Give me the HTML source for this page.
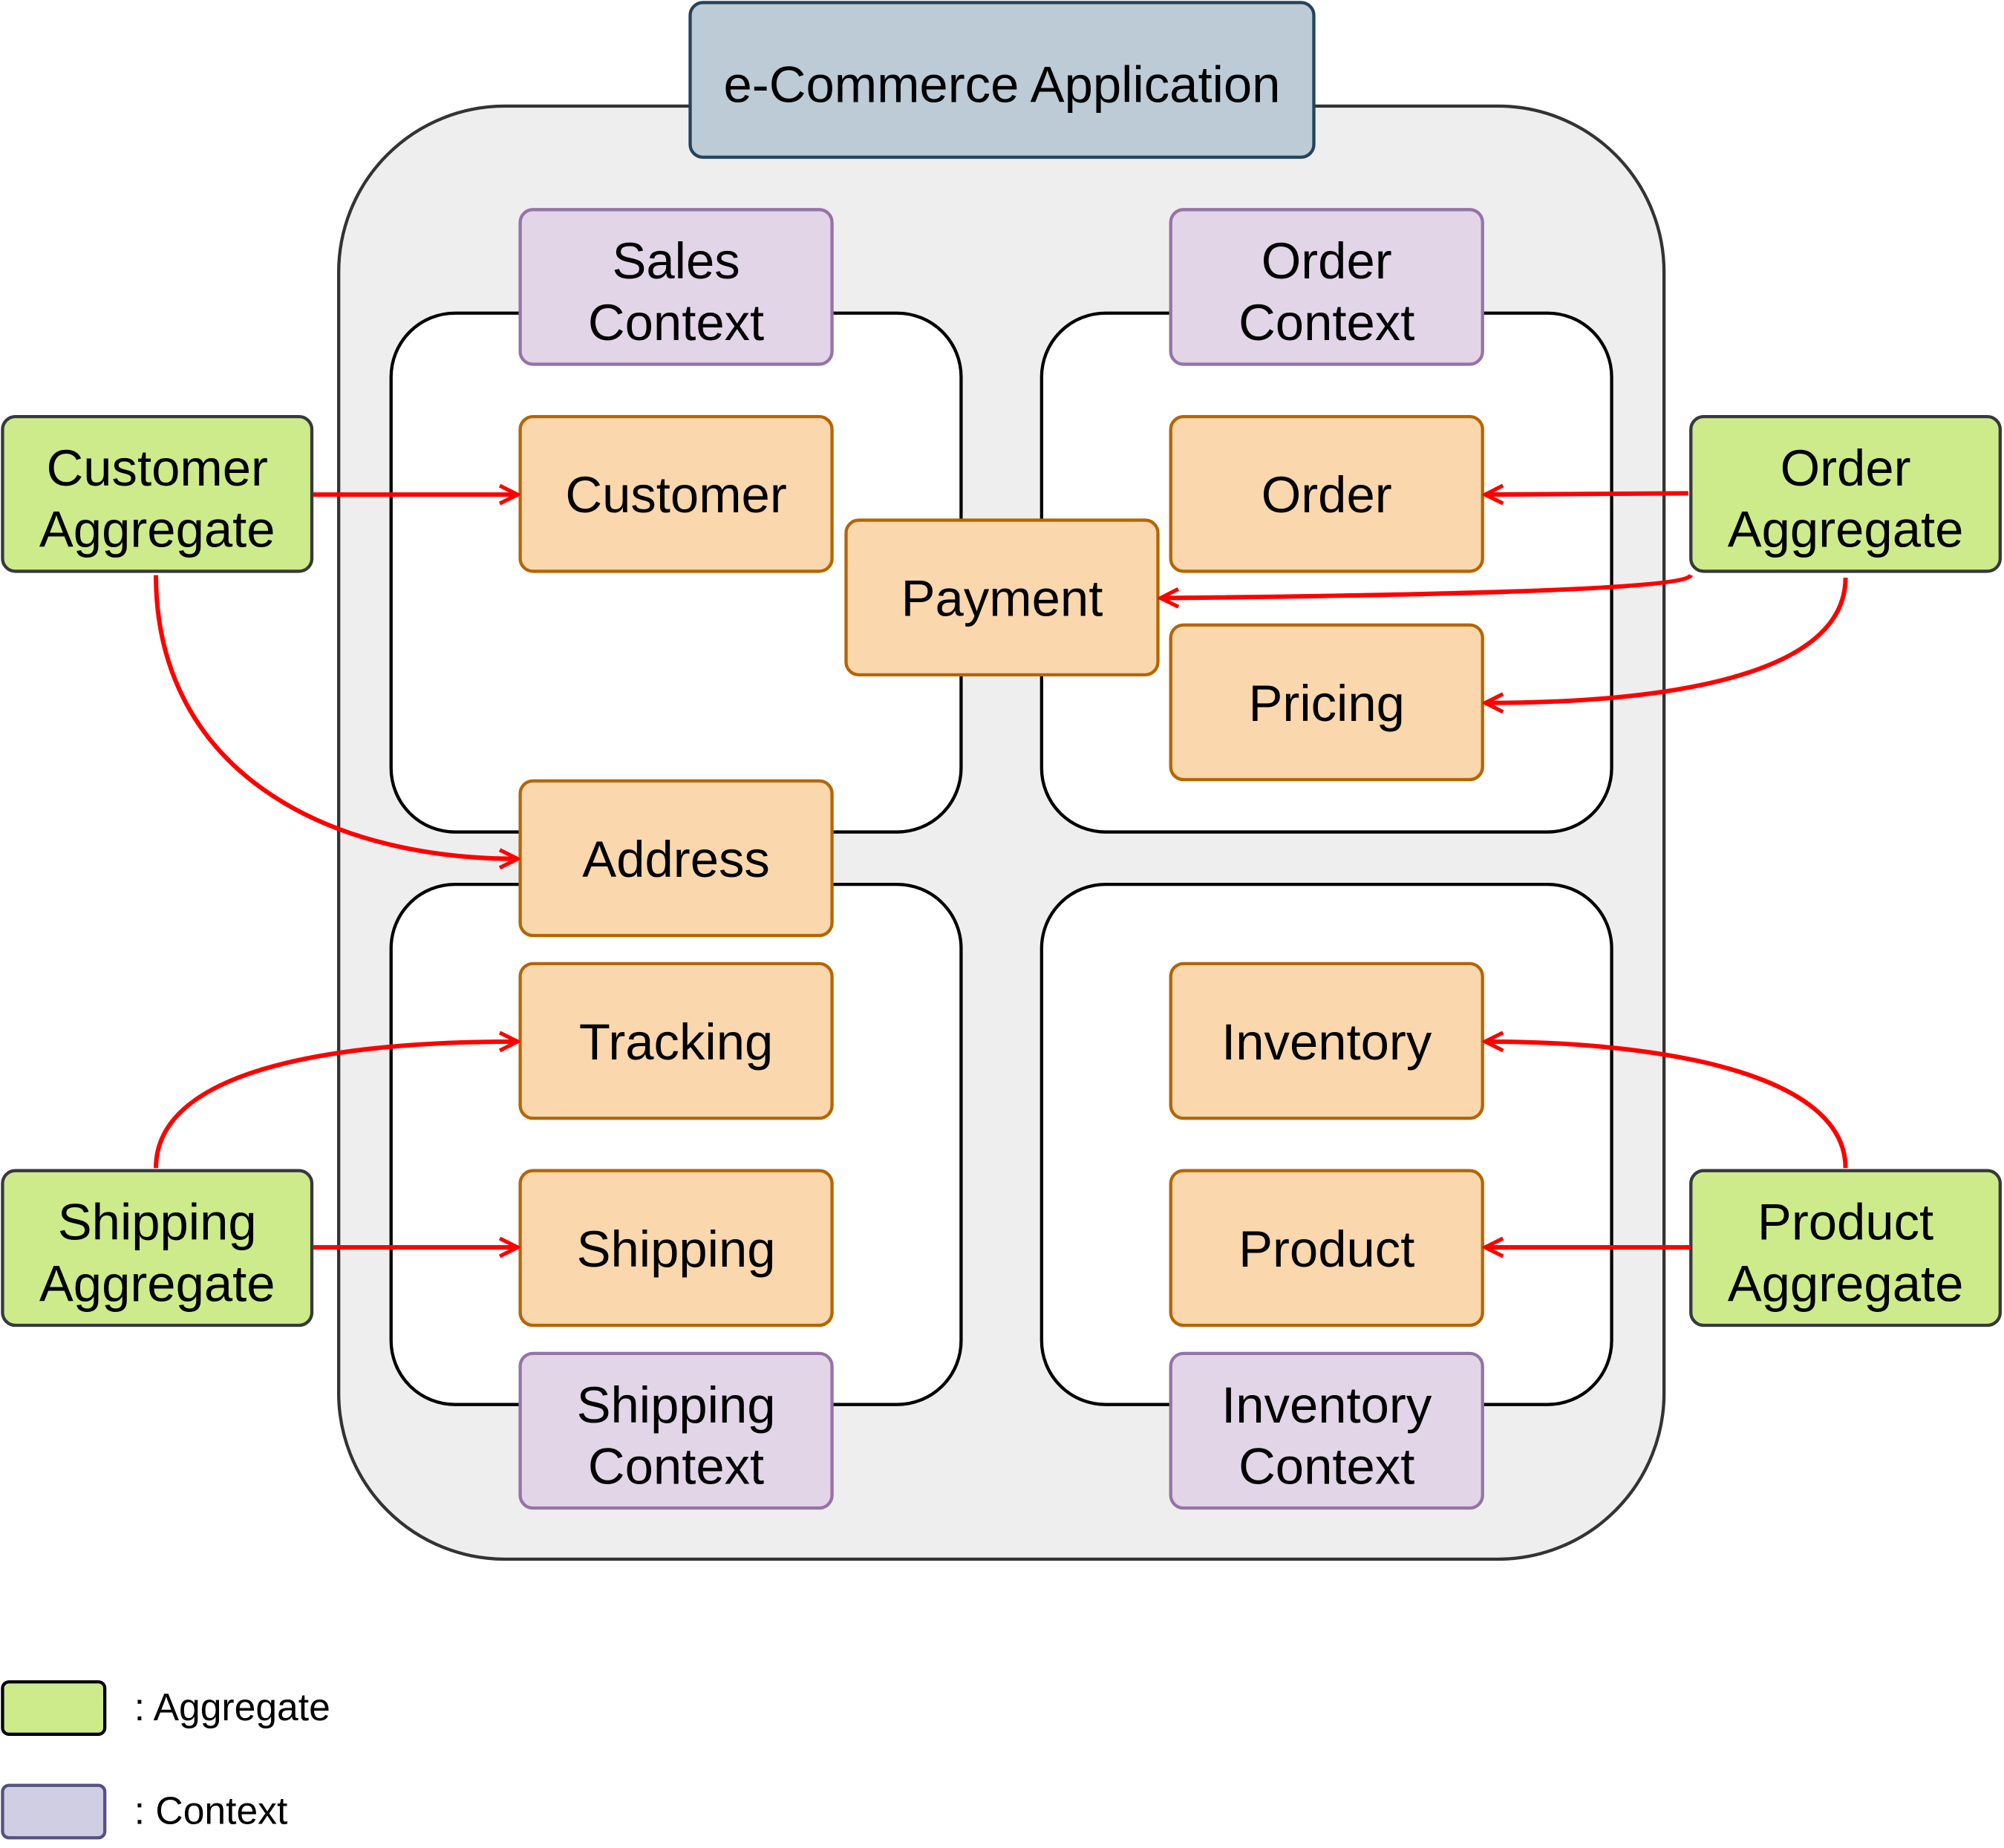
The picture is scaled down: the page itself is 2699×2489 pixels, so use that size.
<!DOCTYPE html>
<html><head><meta charset="utf-8"><style>
html,body{margin:0;padding:0;background:#fff;}
svg{display:block;}
text{font-family:"Liberation Sans",sans-serif;fill:#000;}
</style></head><body>
<svg width="2699" height="2489" viewBox="0 0 1568 1446" xmlns="http://www.w3.org/2000/svg">
<defs>
<marker id="a" viewBox="0 0 20 20" refX="18" refY="10" markerWidth="20" markerHeight="20" markerUnits="userSpaceOnUse" orient="auto">
<polyline points="4,3 18,10 4,17" fill="none" stroke="#ff0000" stroke-width="3"/>
</marker>
</defs>
<rect x="265" y="83" width="1037" height="1137" rx="130" fill="#eeeeee" stroke="#333" stroke-width="2.5"/>
<g fill="#fff" stroke="#000" stroke-width="2.5">
<rect x="306" y="245" width="446" height="406" rx="50"/>
<rect x="815" y="245" width="446" height="406" rx="50"/>
<rect x="306" y="692" width="446" height="407" rx="50"/>
<rect x="815" y="692" width="446" height="407" rx="50"/>
</g>
<rect x="540" y="2" width="488" height="121" rx="10" fill="#bccbd6" stroke="#23445d" stroke-width="2.5"/>
<text x="784" y="80" font-size="40" text-anchor="middle">e-Commerce Application</text>
<g fill="#e1d5e7" stroke="#9673a6" stroke-width="2.5">
<rect x="407" y="164" width="244" height="121" rx="10"/>
<rect x="916" y="164" width="244" height="121" rx="10"/>
<rect x="407" y="1059" width="244" height="121" rx="10"/>
<rect x="916" y="1059" width="244" height="121" rx="10"/>
</g>
<g fill="#fad7ac" stroke="#b46504" stroke-width="2.5">
<rect x="407" y="326" width="244" height="121" rx="10"/>
<rect x="916" y="326" width="244" height="121" rx="10"/>
<rect x="662" y="407" width="244" height="121" rx="10"/>
<rect x="916" y="489" width="244" height="121" rx="10"/>
<rect x="407" y="611" width="244" height="121" rx="10"/>
<rect x="407" y="754" width="244" height="121" rx="10"/>
<rect x="407" y="916" width="244" height="121" rx="10"/>
<rect x="916" y="754" width="244" height="121" rx="10"/>
<rect x="916" y="916" width="244" height="121" rx="10"/>
</g>
<g fill="#cdeb8b" stroke="#36393d" stroke-width="2.5">
<rect x="2" y="326" width="242" height="121" rx="10"/>
<rect x="1323" y="326" width="242" height="121" rx="10"/>
<rect x="2" y="916" width="242" height="121" rx="10"/>
<rect x="1323" y="916" width="242" height="121" rx="10"/>
</g>
<g font-size="40" text-anchor="middle">
<text x="529" y="218">Sales</text><text x="529" y="266">Context</text>
<text x="1038" y="218">Order</text><text x="1038" y="266">Context</text>
<text x="529" y="1113">Shipping</text><text x="529" y="1161">Context</text>
<text x="1038" y="1113">Inventory</text><text x="1038" y="1161">Context</text>
<text x="529" y="401">Customer</text>
<text x="1038" y="401">Order</text>
<text x="784" y="482">Payment</text>
<text x="1038" y="564">Pricing</text>
<text x="529" y="686">Address</text>
<text x="529" y="829">Tracking</text>
<text x="529" y="991">Shipping</text>
<text x="1038" y="829">Inventory</text>
<text x="1038" y="991">Product</text>
<text x="123" y="380">Customer</text><text x="123" y="428">Aggregate</text>
<text x="1444" y="380">Order</text><text x="1444" y="428">Aggregate</text>
<text x="123" y="970">Shipping</text><text x="123" y="1018">Aggregate</text>
<text x="1444" y="970">Product</text><text x="1444" y="1018">Aggregate</text>
</g>
<g fill="none" stroke="#ff0000" stroke-width="3.5" marker-end="url(#a)">
<path d="M245 387 L405 387"/>
<path d="M122 450 C122 600 250 672 405 672"/>
<path d="M1321 386 L1162 387"/>
<path d="M1323 450 C1318 462 1100 466 908 468"/>
<path d="M1444 452 C1444 530 1300 550 1162 550"/>
<path d="M122 914 C122 840 250 815 405 815"/>
<path d="M245 976 L405 976"/>
<path d="M1444 914 C1444 840 1300 815 1162 815"/>
<path d="M1323 976 L1162 976"/>
</g>
<rect x="2" y="1316" width="80" height="41" rx="5" fill="#cdeb8b" stroke="#000" stroke-width="2.5"/>
<rect x="2" y="1397" width="80" height="41" rx="5" fill="#d0cee2" stroke="#56517e" stroke-width="2.5"/>
<text x="105" y="1346" font-size="30">:  Aggregate</text>
<text x="105" y="1427" font-size="30">:  Context</text>
</svg>
</body></html>
